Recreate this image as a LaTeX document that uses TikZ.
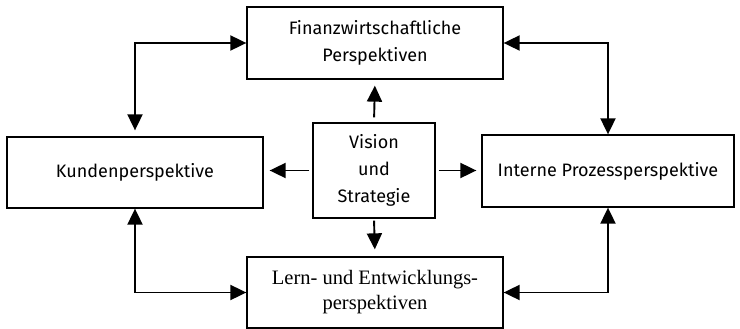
\documentclass[tikz,border=0pt]{standalone}
\usepackage{fontspec}
\setmainfont{Fira Sans}
\newfontfamily\serifbox{Liberation Serif}
\usetikzlibrary{arrows.meta}
\begin{document}
\begin{tikzpicture}[x=1pt,y=-1pt,
  box/.style={draw,line width=1.3pt,inner sep=0pt,align=center,
    font=\fontsize{18}{27}\selectfont},
  link/.style={line width=1.9pt,-{Triangle[length=16pt,width=15pt]}},
  twoway/.style={line width=1.9pt,{Triangle[length=16pt,width=15pt]}-{Triangle[length=16pt,width=15pt]}}]
  \useasboundingbox (0,0) rectangle (740,329);
  \node[box,minimum width=256pt,minimum height=72pt] (fin) at (375,43)
    {Finanzwirtschaftliche\\Perspektiven};
  \node[box,minimum width=122pt,minimum height=95pt] (vis) at (374,170.5)
    {Vision\\und\\Strategie};
  \node[box,minimum width=256pt,minimum height=71pt] (kun) at (135,172.5)
    {Kundenperspektive};
  \node[box,minimum width=252pt,minimum height=72pt] (pro) at (608,171)
    {Interne Prozessperspektive};
  \node[box,minimum width=256pt,minimum height=71pt,
    font=\serifbox\fontsize{20.5}{25}\selectfont] (lern) at (375,292.5)
    {Lern- und Entwicklungs-\\perspektiven};
  % outer ring of two-way links
  \draw[twoway,shorten >=6pt] (fin.west) -| (kun.north);
  \draw[twoway] (fin.east) -| (pro.north);
  \draw[twoway] (kun.south) |- (lern.west);
  \draw[twoway] (pro.south) |- (lern.east);
  % links from the centre
  \draw[link,shorten <=5pt,shorten >=6pt] (vis.north) -- (fin.south);
  \draw[link,shorten <=3pt,shorten >=6pt] (vis.west) -- (vis.west -| kun.east);
  \draw[link,shorten <=3pt,shorten >=5pt] (vis.east) -- (vis.east -| pro.west);
  \draw[link,shorten <=2pt,shorten >=7pt] (vis.south) -- (lern.north);
\end{tikzpicture}
\end{document}
